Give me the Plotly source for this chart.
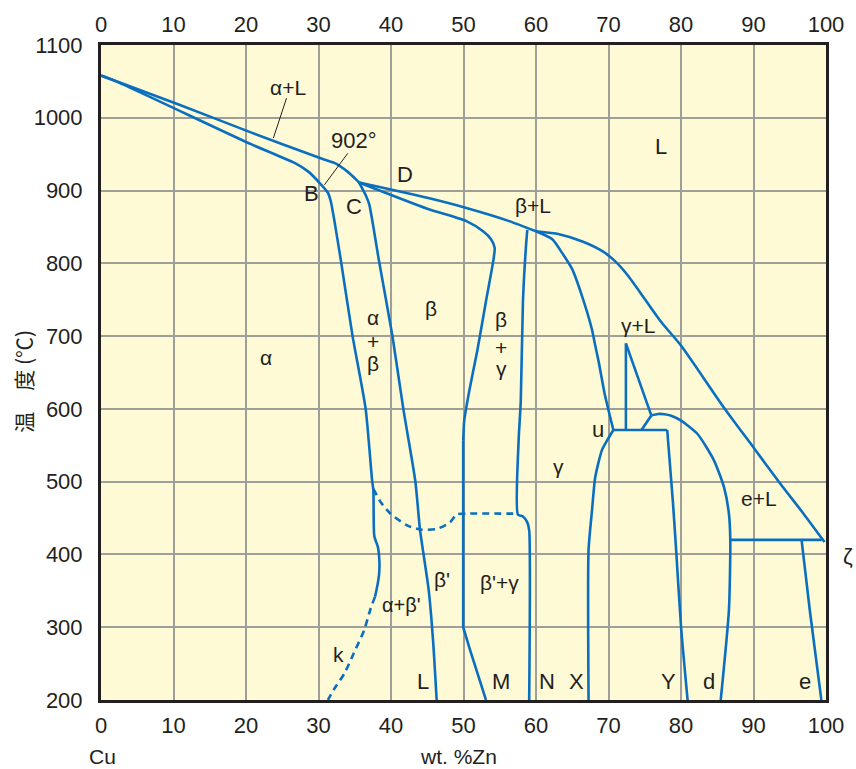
import plotly.graph_objects as go

# ---- axis ticks ----
X_TICKS = list(range(0, 101, 10))
Y_TICKS = list(range(200, 1101, 100))

# ---- phase boundaries (wt.% Zn, temperature in deg C) ----
alpha_liq_x = [0.0, 10.8, 20.4, 30.4, 32.2, 34.0, 35.2, 35.6]
alpha_liq_t = [1058, 1018, 981, 944, 938, 926, 915, 911]

alpha_sol_x = [0.0, 2.1, 20.4, 26.7, 28.6, 30.2, 31.3, 31.7, 32.2, 33.1, 34.7, 36.5,
               37.4, 37.57, 37.7, 38.2, 38.4, 38.35, 38.0, 37.8]
alpha_sol_t = [1058, 1050, 965, 938, 926, 910, 897, 885, 858, 803, 700, 600,
               501, 488, 425, 410, 390, 372, 351, 342]

k_line_x = [37.8, 37.2, 36.3, 34.9, 33.6, 32.1, 31.3]
k_line_t = [342, 326, 296, 265, 237, 214, 200]

beta_left_x = [35.6, 36.5, 37.0, 38.35, 40.2, 41.7, 43.35, 44.0, 45.2, 45.8, 46.3]
beta_left_t = [911, 894, 881, 803, 700, 600, 501, 434, 351, 282, 200]

beta_liq_x = [35.6, 45.0, 50.4, 56.3, 60.0]
beta_liq_t = [911, 890, 876, 858, 844]

liq_x = [60.0, 63.2, 66.4, 69.1, 70.9, 72.7, 75.0, 77.3, 80.0, 85.9, 90.0, 93.7, 96.9, 99.8]
liq_t = [844, 840, 830, 817, 803, 783, 751, 719, 687, 602, 547, 497, 456, 417]

beta_sol_x = [35.6, 45.0, 50.4, 52.7, 53.8, 54.3, 54.1, 53.1, 51.9, 50.8, 50.1, 49.96]
beta_sol_t = [911, 875, 858, 844, 833, 821, 803, 748, 680, 625, 584, 556]

m_line_x = [49.96, 49.96, 50.9, 53.1]
m_line_t = [556, 300, 269, 200]

gamma_left_x = [58.8, 58.6, 58.2, 57.9, 57.6, 57.5, 58.2, 58.8, 59.06, 59.06]
gamma_left_t = [846, 821, 748, 611, 556, 455, 452, 444, 433, 200]

order_x = [37.57, 38.57, 39.93, 42.21, 44.26, 46.31, 48.13, 49.04, 49.96, 57.47]
order_t = [490, 472, 456, 440, 434, 435, 444, 455, 456, 456]

gamma_right_x = [60.0, 62.25, 63.62, 64.99, 66.35, 67.72, 68.17, 68.62, 69.53, 70.67]
gamma_right_t = [844, 833, 814, 792, 755, 709, 687, 666, 618, 571]

perit_x = [70.67, 78.1]
perit_t = [571, 571]

delta_v_x = [72.4, 72.4]
delta_v_t = [571, 690]

delta_d_x = [72.4, 75.9]
delta_d_t = [690, 591]

delta_s_x = [74.55, 75.9]
delta_s_t = [571, 591]

eps_x = [75.9, 76.82, 77.73, 78.65, 80.01, 82.28, 84.56, 85.93, 86.61, 86.8, 86.61, 85.48]
eps_t = [591, 593, 592.7, 590.6, 583.8, 565.5, 529, 492.4, 455.9, 419.3, 323.4, 200]

y_line_x = [78.1, 78.87, 79.33, 80.01, 80.91]
y_line_t = [571, 474, 406, 300, 200]

x_line_x = [70.67, 69.77, 69.08, 68.17, 67.72, 67.25, 67.25]
x_line_t = [571, 556, 543, 506, 460, 406, 200]

eut_x = [86.8, 99.4]
eut_t = [420, 420]

e_line_x = [96.63, 97.77, 99.36]
e_line_t = [420, 323, 200]

# leader lines for two callouts
lead_al_x = [23.77, 25.59]
lead_al_t = [972, 1027]
lead_902_x = [30.83, 34.02]
lead_902_t = [908, 951]

BLUE = "#0A6FBF"
INK = "#231F20"
FONT = "Liberation Sans, Arial, sans-serif"

fig = go.Figure()


def curve(x, t, smooth=True, dash=None):
    fig.add_trace(go.Scatter(
        x=x, y=t, mode="lines", hoverinfo="skip", showlegend=False,
        line=dict(color=BLUE, width=2.6, shape="spline" if smooth else "linear",
                  smoothing=0.6, dash=dash)))


curve(alpha_liq_x, alpha_liq_t)
curve(alpha_sol_x, alpha_sol_t)
curve(k_line_x, k_line_t, dash="7px,5px")
curve(beta_left_x, beta_left_t)
curve(beta_liq_x, beta_liq_t)
curve(liq_x, liq_t)
curve(beta_sol_x, beta_sol_t)
curve(m_line_x, m_line_t, smooth=False)
curve(gamma_left_x, gamma_left_t)
curve(order_x, order_t, dash="7px,5px")
curve(gamma_right_x, gamma_right_t)
curve(perit_x, perit_t, smooth=False)
curve(delta_v_x, delta_v_t, smooth=False)
curve(delta_d_x, delta_d_t, smooth=False)
curve(delta_s_x, delta_s_t, smooth=False)
curve(eps_x, eps_t)
curve(y_line_x, y_line_t)
curve(x_line_x, x_line_t)
curve(eut_x, eut_t, smooth=False)
curve(e_line_x, e_line_t, smooth=False)

for lx, lt in ((lead_al_x, lead_al_t), (lead_902_x, lead_902_t)):
    fig.add_trace(go.Scatter(x=lx, y=lt, mode="lines", hoverinfo="skip",
                             showlegend=False, line=dict(color=INK, width=1)))

# helper so the top axis is rendered
fig.add_trace(go.Scatter(x=X_TICKS, y=[None] * len(X_TICKS), xaxis="x2",
                         mode="lines", hoverinfo="skip", showlegend=False))

labels = [
    ("α+L", 25.8, 1041, 21), ("902°", 34.9, 969, 22), ("B", 29.1, 896, 22),
    ("C", 34.85, 878, 22), ("D", 41.95, 922, 22), ("L", 77.3, 961, 22),
    ("β+L", 59.6, 880, 21), ("α", 22.75, 670, 21),
    ("α", 37.45, 725, 21), ("+", 37.45, 692, 21), ("β", 37.45, 663, 21),
    ("β", 45.5, 738, 21),
    ("β", 55.2, 723, 21), ("+", 55.2, 684, 21), ("γ", 55.2, 655, 21),
    ("γ+L", 74.0, 714, 21), ("u", 68.5, 572, 22), ("γ", 63.1, 521, 21),
    ("e+L", 90.7, 477, 21), ("β'", 47.1, 365, 21), ("β'+γ", 54.9, 362, 21),
    ("α+β'", 41.5, 330, 20), ("k", 32.8, 263, 21),
    ("L", 44.4, 226, 22), ("M", 55.2, 226, 22), ("N", 61.5, 226, 22),
    ("X", 65.6, 226, 22), ("Y", 78.3, 226, 22), ("d", 83.9, 226, 22),
    ("e", 97.1, 226, 22),
]
for text, x, t, size in labels:
    fig.add_annotation(x=x, y=t, text=text, showarrow=False,
                       font=dict(family=FONT, size=size, color=INK),
                       xanchor="center", yanchor="middle")

outer = [
    ("ζ", 1.031, 0.219, 22),
    ("Cu", 0.002, -0.087, 21),
    ("wt. %Zn", 0.493, -0.087, 21),
]
for text, x, y, size in outer:
    fig.add_annotation(xref="paper", yref="paper", x=x, y=y, text=text,
                       showarrow=False, xanchor="center", yanchor="middle",
                       font=dict(family=FONT, size=size, color=INK))
fig.add_annotation(xref="paper", yref="paper", x=-0.108, y=0.487,
                   xanchor="center", yanchor="middle",
                   text="温　度 (℃)", textangle=-90, showarrow=False,
                   font=dict(family="Noto Sans CJK JP", size=21, color=INK))

axis_common = dict(
    range=[0, 100], tickvals=X_TICKS, ticks="",
    tickfont=dict(family=FONT, size=22, color=INK),
)
fig.update_layout(
    width=856, height=769,
    margin=dict(l=101, r=23, t=43, b=69),
    paper_bgcolor="white", plot_bgcolor="#FFFAD6",
    xaxis=dict(**axis_common, showgrid=True, gridcolor="#A09E98", gridwidth=1.6,
               showline=True, linecolor=INK, linewidth=3, mirror=True,
               zeroline=False, ticklabelstandoff=4),
    xaxis2=dict(**axis_common, overlaying="x", side="top", showgrid=False,
                showline=False, zeroline=False, ticklabelstandoff=8),
    yaxis=dict(range=[200, 1100], tickvals=Y_TICKS, ticks="",
               tickfont=dict(family=FONT, size=22, color=INK),
               showgrid=True, gridcolor="#A09E98", gridwidth=1.6,
               showline=True, linecolor=INK, linewidth=3, mirror=True,
               zeroline=False, ticklabelstandoff=11),
    hovermode=False,
)

fig.write_html("out.html")
